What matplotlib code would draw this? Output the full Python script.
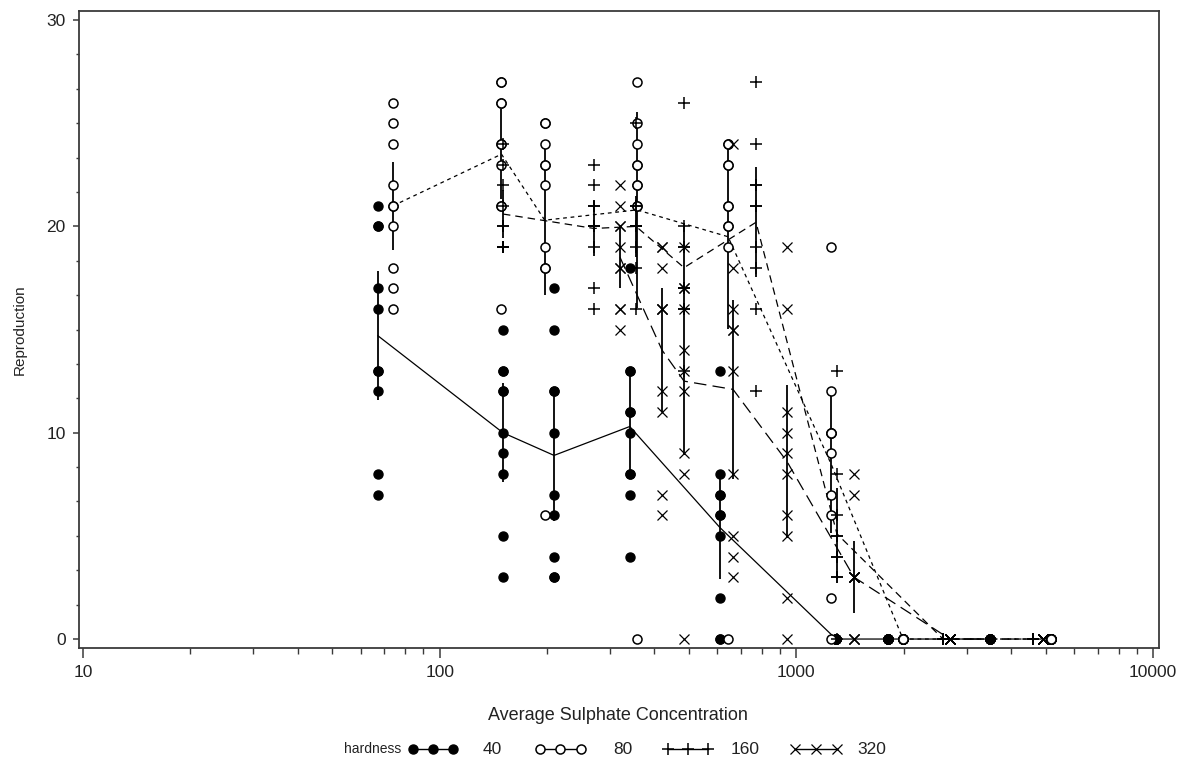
import numpy as np
import matplotlib
matplotlib.use("Agg")
import matplotlib.pyplot as plt
from matplotlib.ticker import FixedLocator, MultipleLocator, NullFormatter

plt.rcParams["font.family"] = ["Liberation Sans", "DejaVu Sans"]

# average sulphate concentration per test level, one list per hardness
conc_40 = [67.1, 150.4, 209.2, 341.0, 610.6, 1291, 1806, 3490]
conc_80 = [74.0, 149.0, 197.0, 357.0, 643.0, 1250, 1990, 5175]
conc_160 = [150.4, 270.8, 355.0, 484.2, 770.5, 1299, 2577, 4603]
conc_320 = [320.3, 420.2, 484.2, 664.3, 941.3, 1450, 2695, 4914]

# reproduction of the 10 replicates at each level
rep_40 = [
    [21, 20, 20, 17, 16, 13, 13, 12, 8, 7],
    [15, 13, 13, 12, 12, 10, 9, 8, 5, 3],
    [17, 15, 12, 12, 10, 7, 6, 4, 3, 3],
    [18, 13, 13, 11, 11, 10, 8, 8, 7, 4],
    [13, 8, 7, 7, 6, 6, 5, 2, 0, 0],
    [0, 0, 0, 0, 0, 0, 0, 0, 0, 0],
    [0, 0, 0, 0, 0, 0, 0, 0, 0, 0],
    [0, 0, 0, 0, 0, 0, 0, 0, 0, 0],
]
rep_80 = [
    [26, 25, 24, 22, 21, 21, 20, 18, 17, 16],
    [27, 27, 26, 26, 24, 24, 23, 21, 21, 16],
    [25, 25, 24, 23, 23, 22, 19, 18, 18, 6],
    [27, 25, 24, 23, 23, 22, 22, 21, 21, 0],
    [24, 24, 23, 23, 21, 21, 20, 20, 19, 0],
    [19, 12, 10, 10, 10, 9, 7, 6, 2, 0],
    [0, 0, 0, 0, 0, 0, 0, 0, 0, 0],
    [0, 0, 0, 0, 0, 0, 0, 0, 0, 0],
]
rep_160 = [
    [24, 23, 22, 21, 20, 20, 19, 19, 19, 19],
    [23, 22, 21, 21, 20, 20, 20, 19, 17, 16],
    [25, 21, 21, 20, 20, 20, 20, 19, 18, 16],
    [26, 20, 19, 19, 17, 17, 17, 16, 16, 13],
    [27, 24, 22, 22, 21, 21, 19, 18, 16, 12],
    [13, 8, 6, 5, 5, 4, 4, 3, 3, 0],
    [0, 0, 0, 0, 0, 0, 0, 0, 0, 0],
    [0, 0, 0, 0, 0, 0, 0, 0, 0, 0],
]
rep_320 = [
    [22, 21, 20, 20, 19, 18, 18, 16, 16, 15],
    [19, 19, 18, 16, 16, 16, 12, 11, 7, 6],
    [19, 17, 17, 16, 14, 13, 12, 9, 8, 0],
    [24, 18, 16, 15, 15, 13, 8, 5, 4, 3],
    [19, 16, 11, 10, 9, 8, 6, 5, 2, 0],
    [8, 7, 3, 3, 3, 3, 3, 0, 0, 0],
    [0, 0, 0, 0, 0, 0, 0, 0, 0, 0],
    [0, 0, 0, 0, 0, 0, 0, 0, 0, 0],
]

hardness_labels = ["40", "80", "160", "320"]

series = [
    (conc_40, rep_40, dict(marker="o", ms=6.5, mfc="black", mec="black", mew=1.0), "-"),
    (conc_80, rep_80, dict(marker="o", ms=6.5, mfc="white", mec="black", mew=1.1), (0, (3, 3))),
    (conc_160, rep_160, dict(marker="+", ms=9, mfc="none", mec="black", mew=1.1), (0, (6, 4))),
    (conc_320, rep_320, dict(marker="x", ms=7.5, mfc="none", mec="black", mew=0.9), (0, (10, 5))),
]

fig = plt.figure(figsize=(11.84, 7.63), dpi=100)
ax = fig.add_axes([79 / 1184, 1 - 647.7 / 763, 1080 / 1184, 636.7 / 763])

for conc, reps, mstyle, ls in series:
    conc = np.array(conc)
    reps = np.array(reps, dtype=float)
    means = reps.mean(axis=1)
    sem = reps.std(axis=1, ddof=1) / np.sqrt(reps.shape[1])
    # SAS style: mean joined, bars at +/- 2 standard errors
    ax.plot(conc, means, color="black", lw=0.9, linestyle=ls, zorder=2)
    ax.vlines(conc, means - 2 * sem, means + 2 * sem, color="black", lw=1.3, zorder=2)
    for c, r in zip(conc, reps):
        ax.plot(np.full(len(r), c), r, linestyle="none", zorder=3, **mstyle)

ax.set_xscale("log")
ax.set_xlim(9.745, 10388)
ax.set_ylim(-0.42, 30.44)

ax.xaxis.set_major_locator(FixedLocator([10, 100, 1000, 10000]))
ax.xaxis.set_minor_locator(FixedLocator([m * 10 ** e for e in range(1, 4) for m in range(2, 10)]))
ax.xaxis.set_minor_formatter(NullFormatter())
ax.set_xticklabels(["10", "100", "1000", "10000"])
ax.yaxis.set_major_locator(FixedLocator([0, 10, 20, 30]))
ax.yaxis.set_minor_locator(MultipleLocator(10 / 6))

for sp in ax.spines.values():
    sp.set_linewidth(1.3)
    sp.set_color("#3a3a3a")

ax.tick_params(axis="x", which="major", direction="out", length=7.5, width=1.1, pad=5, labelsize=12.5, colors="#3a3a3a", labelcolor="#222222")
ax.tick_params(axis="x", which="minor", direction="out", length=4.5, width=1.0, colors="#3a3a3a")
ax.tick_params(axis="y", which="major", direction="out", length=4.5, width=1.1, pad=5, labelsize=12.5, colors="#3a3a3a", labelcolor="#222222")
ax.tick_params(axis="y", which="minor", direction="out", length=2.5, width=1.0, colors="#3a3a3a")

fig.text(618 / 1184, 1 - 715 / 763, "Average Sulphate Concentration", ha="center", va="center", fontsize=13, color="#222222")
fig.text(20 / 1184, 1 - 330 / 763, "Reproduction", ha="center", va="center", rotation=90, fontsize=11, color="#222222")

# legend along the bottom, drawn in pixel space
lax = fig.add_axes([0, 0, 1, 1], zorder=5)
lax.set_xlim(0, 1184)
lax.set_ylim(763, 0)
lax.axis("off")
leg_y = 749
lax.text(344, leg_y, "hardness", ha="left", va="center", fontsize=10, color="#222222")
leg_x = [(413, 433, 453), (540, 560, 581), (668, 688, 708), (795, 816, 837)]
leg_tx = [483, 613, 731, 857]
for (conc, reps, mstyle, ls), xs, tx, lab in zip(series, leg_x, leg_tx, hardness_labels):
    lax.plot(xs, [leg_y] * 3, color="black", lw=1.0, linestyle="-", **mstyle)
    lax.text(tx, leg_y, lab, ha="left", va="center", fontsize=12.5, color="#222222")

fig.savefig("out.png", dpi=100)
